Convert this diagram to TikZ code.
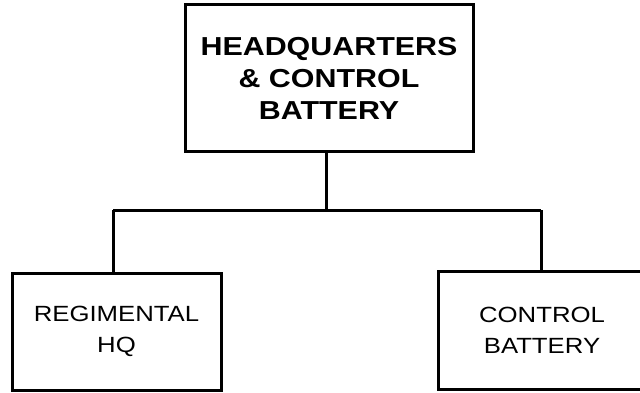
\documentclass[tikz,border=0pt]{standalone}
\usepackage{fontspec}
\newfontfamily\hfont{Liberation Sans}[FakeStretch=1.17]
\begin{document}
\begin{tikzpicture}[x=1pt,y=1pt,
  box/.style={draw=black, line width=3pt, rectangle, align=center, inner sep=0pt},
  bigtext/.style={font=\hfont\bfseries\fontsize{26}{32}\selectfont},
  smalltext/.style={font=\hfont\fontsize{22}{31}\selectfont},
  conn/.style={draw=black, line width=3pt}]
\useasboundingbox (0,0) rectangle (640,392);
\clip (0,0) rectangle (640,392);
\node[box, bigtext, minimum width=288, minimum height=146] (top) at (329,314)
  {HEADQUARTERS\\\& CONTROL\\BATTERY};
\node[box, smalltext, minimum width=209, minimum height=117] (left) at (116.5,60.5)
  {REGIMENTAL\\HQ};
\node[box, smalltext, minimum width=208, minimum height=118] (right) at (542,62)
  {CONTROL\\BATTERY};
\coordinate (jl) at (113,182);
\coordinate (jr) at (541,182);
\coordinate (jm) at (326,182);
\draw[conn] (jm |- top.south) -- (jm);
\draw[conn] (jl) -- (jr);
\draw[conn] (jl) -- (jl |- left.north);
\draw[conn] (jr) -- (jr |- right.north);
\end{tikzpicture}
\end{document}
